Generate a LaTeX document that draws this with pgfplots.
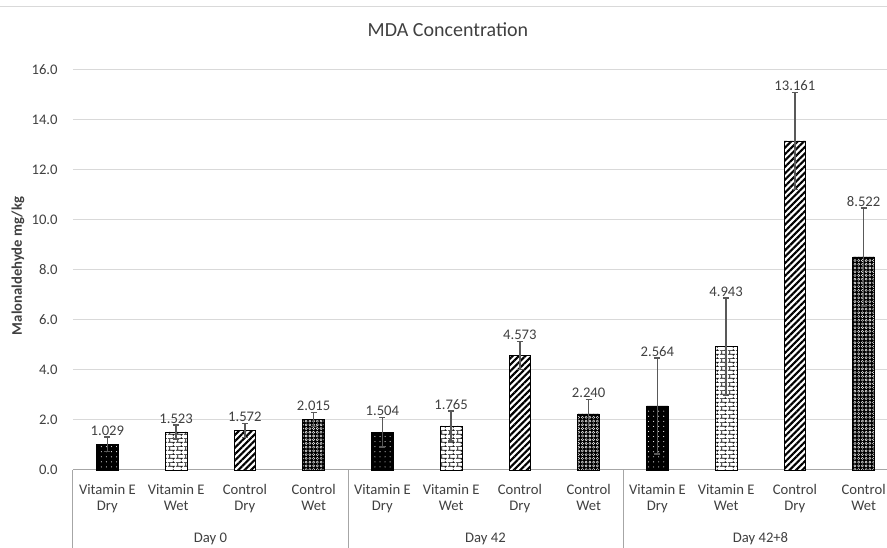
\documentclass[border=0pt]{standalone}
\usepackage{fontspec}
\setmainfont{Carlito}
\usepackage{pgfplots}
\usepackage{pgfplotstable}
\pgfplotsset{compat=1.18}
\usetikzlibrary{patterns,patterns.meta}
\definecolor{txt}{HTML}{404040}
\definecolor{gridc}{HTML}{D9D9D9}
\definecolor{axc}{HTML}{A6A6A6}
\definecolor{errc}{HTML}{595959}

\pgfdeclarepatternformonly{smallbricks}{\pgfpointorigin}{\pgfpoint{6pt}{6pt}}{\pgfpoint{6pt}{6pt}}{%
  \pgfsetlinewidth{0.6pt}%
  \pgfpathmoveto{\pgfpoint{0pt}{1.5pt}}\pgfpathlineto{\pgfpoint{6pt}{1.5pt}}%
  \pgfpathmoveto{\pgfpoint{0pt}{4.5pt}}\pgfpathlineto{\pgfpoint{6pt}{4.5pt}}%
  \pgfpathmoveto{\pgfpoint{1.5pt}{1.5pt}}\pgfpathlineto{\pgfpoint{1.5pt}{4.5pt}}%
  \pgfpathmoveto{\pgfpoint{4.5pt}{4.5pt}}\pgfpathlineto{\pgfpoint{4.5pt}{6pt}}%
  \pgfpathmoveto{\pgfpoint{4.5pt}{0pt}}\pgfpathlineto{\pgfpoint{4.5pt}{1.5pt}}%
  \pgfusepath{stroke}}

\pgfplotstableread{
x y err
0 1.029 0.29
4 1.504 0.59
8 2.564 1.92
}\veDry
\pgfplotstableread{
x y err
1 1.523 0.28
5 1.765 0.60
9 4.943 1.94
}\veWet
\pgfplotstableread{
x y err
2 1.572 0.28
6 4.573 0.56
10 13.161 1.93
}\cDry
\pgfplotstableread{
x y err
3 2.015 0.28
7 2.240 0.59
11 8.522 1.96
}\cWet

\pgfplotsset{
  mybar/.style={
    bar shift=0pt, bar width=0.315, draw=black, line width=0.5pt,
    error bars/.cd, y dir=both, y explicit,
      error bar style={errc, line width=1pt},
      error mark options={rotate=90, errc, mark size=2.2pt, line width=1pt},
    /pgfplots/.cd,
    point meta=y,
    nodes near coords={\pgfmathprintnumber[fixed,fixed zerofill,precision=3,assume math mode=true]{\pgfplotspointmeta}},
    visualization depends on={\thisrow{err} \as \myerr},
    every node near coord/.append style={shift={(axis direction cs:0,\myerr)}, inner sep=1pt, anchor=south, text=txt, font=\fontsize{11}{13}\selectfont},
  }
}

\begin{document}
\begin{tikzpicture}
\begin{axis}[
  scale only axis, width=618.75pt, height=300pt,
  xmin=-0.5, xmax=11.5, ymin=0, ymax=16,
  ybar,
  clip=false,
  ytick={0,2,...,16},
  ymajorgrids, grid style={gridc, line width=0.75pt},
  axis x line*=bottom, axis y line*=left,
  y axis line style={draw=none},
  x axis line style={axc, line width=0.75pt, -},
  major tick length=0pt, tick style={draw=none},
  xtick={0,...,11},
  xticklabels={Vitamin E\\Dry, Vitamin E\\Wet, Control\\Dry, Control\\Wet,
               Vitamin E\\Dry, Vitamin E\\Wet, Control\\Dry, Control\\Wet,
               Vitamin E\\Dry, Vitamin E\\Wet, Control\\Dry, Control\\Wet},
  xticklabel style={align=center, text=txt, font=\fontsize{11}{12.5}\selectfont, yshift=-7pt},
  yticklabel style={text=txt, font=\fontsize{11}{13}\selectfont, xshift=-8pt,
    /pgf/number format/.cd, fixed, fixed zerofill, precision=1, assume math mode=true},
]
\coordinate (ll) at (rel axis cs:0,0);
\addplot[mybar, fill=black, postaction={pattern={Dots[radius=0.4pt, distance=3.8pt]}, pattern color=white}]
  table[x=x, y=y, y error=err] {\veDry};
\addplot[mybar, fill=white, postaction={pattern=smallbricks, pattern color=black}]
  table[x=x, y=y, y error=err] {\veWet};
\addplot[mybar, fill=white, postaction={pattern={Lines[angle=45, distance=3.4pt, line width=1.6pt]}, pattern color=black}]
  table[x=x, y=y, y error=err] {\cDry};
\addplot[mybar, fill=black, postaction={pattern={Dots[radius=1.05pt, distance=2.8pt]}, pattern color=white},
  postaction={pattern={Dots[radius=0.45pt, distance=2.8pt]}, pattern color=black}]
  table[x=x, y=y, y error=err] {\cWet};

\draw[axc, line width=0.75pt] (axis cs:-0.5,0) -- ([yshift=-58.5pt]axis cs:-0.5,0);
\draw[axc, line width=0.75pt] (axis cs:3.5,0) -- ([yshift=-58.5pt]axis cs:3.5,0);
\draw[axc, line width=0.75pt] (axis cs:7.5,0) -- ([yshift=-58.5pt]axis cs:7.5,0);
\draw[axc, line width=0.75pt] (axis cs:11.5,0) -- ([yshift=-58.5pt]axis cs:11.5,0);
\node[text=txt, font=\fontsize{11}{13}\selectfont, anchor=base] at ([yshift=-54.5pt]axis cs:1.5,0) {Day 0};
\node[text=txt, font=\fontsize{11}{13}\selectfont, anchor=base] at ([yshift=-54.5pt]axis cs:5.5,0) {Day 42};
\node[text=txt, font=\fontsize{11}{13}\selectfont, anchor=base] at ([yshift=-54.5pt]axis cs:9.5,0) {Day 42+8};
\node[text=txt, font=\fontsize{11}{13}\selectfont\bfseries, rotate=90, anchor=center] at ([xshift=-41.25pt]rel axis cs:0,0.51) {Malonaldehyde mg/kg};
\node[text=txt, font=\fontsize{15}{18}\selectfont, anchor=center] at ([yshift=30pt]rel axis cs:0.4545,1) {MDA Concentration};
\end{axis}
\pgfresetboundingbox
\path[use as bounding box] ([shift={(-54.75pt,-58.5pt)}]ll) rectangle ++(665.25pt,411pt);
\draw[gridc, line width=0.75pt] ([shift={(-54.75pt,347.25pt)}]ll) -- ++(665.25pt,0);
\end{tikzpicture}
\end{document}
